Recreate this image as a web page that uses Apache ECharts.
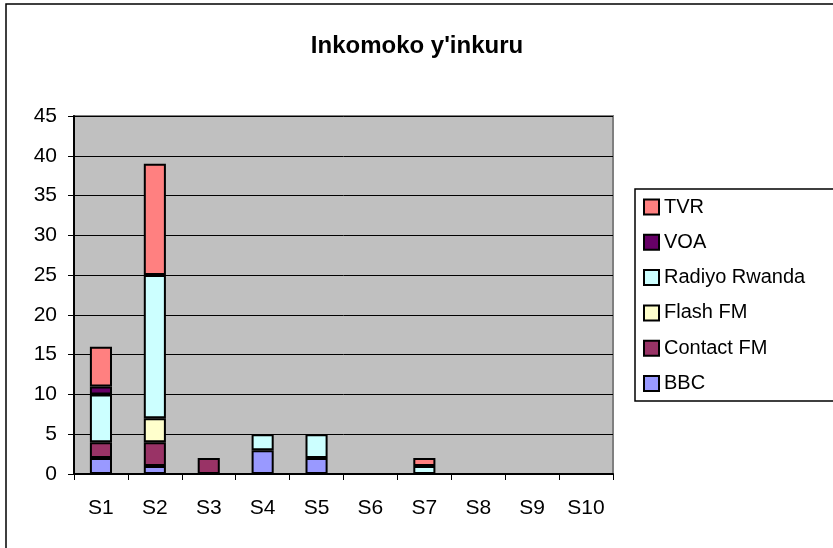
<!DOCTYPE html>
<html>
<head>
<meta charset="utf-8">
<title>Inkomoko y'inkuru</title>
<script src="https://cdn.jsdelivr.net/npm/echarts@6/dist/echarts.min.js"></script>
<style>
  html, body { margin: 0; padding: 0; background: #fff; }
  #main { width: 833px; height: 548px; }
</style>
</head>
<body>
<div id="main"></div>
<script>
var categories = ['S1', 'S2', 'S3', 'S4', 'S5', 'S6', 'S7', 'S8', 'S9', 'S10'];
var yTicks = [0, 5, 10, 15, 20, 25, 30, 35, 40, 45];

// values, bottom to top
var bbc       = [2, 1, 0, 3, 2, 0, 0, 0, 0, 0];
var contactFM = [2, 3, 2, 0, 0, 0, 0, 0, 0, 0];
var flashFM   = [0, 3, 0, 0, 0, 0, 0, 0, 0, 0];
var radiyo    = [6, 18, 0, 2, 3, 0, 1, 0, 0, 0];
var voa       = [1, 0, 0, 0, 0, 0, 0, 0, 0, 0];
var tvr       = [5, 14, 0, 0, 0, 0, 1, 0, 0, 0];

var seriesNames = ['BBC', 'Contact FM', 'Flash FM', 'Radiyo Rwanda', 'VOA', 'TVR'];
var seriesData = [bbc, contactFM, flashFM, radiyo, voa, tvr];
var seriesColors = ['#9999FF', '#993366', '#FFFFCC', '#CCFFFF', '#660066', '#FF8080'];

var font = "'Liberation Sans', Arial, sans-serif";

var series = [];
for (var i = 0; i < seriesNames.length; i++) {
    series.push({
        name: seriesNames[i],
        type: 'bar',
        stack: 'total',
        barWidth: '41%',
        // empty segments should not leave a black line
        data: seriesData[i].map(function(v) { return v === 0 ? '-' : v; }),
        itemStyle: {
            color: seriesColors[i],
            borderColor: '#000',
            borderWidth: 2
        }
    });
}

var myChart = echarts.init(document.getElementById('main'));

var option = {
    animation: false,
    backgroundColor: '#fff',
    title: {
        text: "Inkomoko y'inkuru",
        left: 412,
        textAlign: 'center',
        top: 29,
        textStyle: { fontFamily: font, fontSize: 24, fontWeight: 'bold', color: '#000' }
    },
    legend: {
        orient: 'vertical',
        left: 638,
        top: 192,
        icon: 'rect',
        itemWidth: 15,
        itemHeight: 15,
        itemGap: 15.3,
        data: seriesNames.slice().reverse(),
        textStyle: { fontFamily: font, fontSize: 20, color: '#000' }
    },
    grid: {
        left: 74,
        top: 116,
        right: 220,
        bottom: 74,
        show: true,
        backgroundColor: '#C0C0C0',
        borderColor: '#808080',
        borderWidth: 2
    },
    xAxis: {
        type: 'category',
        data: categories,
        axisLine: { lineStyle: { color: '#000', width: 2 } },
        axisTick: { show: true, alignWithLabel: false, length: 6, lineStyle: { color: '#000', width: 1 } },
        axisLabel: { fontFamily: font, fontSize: 21, color: '#000', margin: 24 }
    },
    yAxis: {
        type: 'value',
        min: yTicks[0],
        max: yTicks[yTicks.length - 1],
        interval: yTicks[1] - yTicks[0],
        axisLine: { show: true, lineStyle: { color: '#000', width: 2 } },
        axisTick: { show: true, length: 6, lineStyle: { color: '#000', width: 1 } },
        axisLabel: { fontFamily: font, fontSize: 21, color: '#000', margin: 17 },
        splitLine: { lineStyle: { color: '#000', width: 1 } }
    },
    graphic: [
        {
            type: 'rect',
            shape: { x: 6, y: 4, width: 900, height: 700 },
            style: { fill: 'none', stroke: '#000', lineWidth: 1.5 },
            silent: true
        },
        {
            type: 'rect',
            shape: { x: 635, y: 189, width: 260, height: 212 },
            style: { fill: 'none', stroke: '#000', lineWidth: 1.5 },
            silent: true
        }
    ],
    series: series
};

myChart.setOption(option);
</script>
</body>
</html>
